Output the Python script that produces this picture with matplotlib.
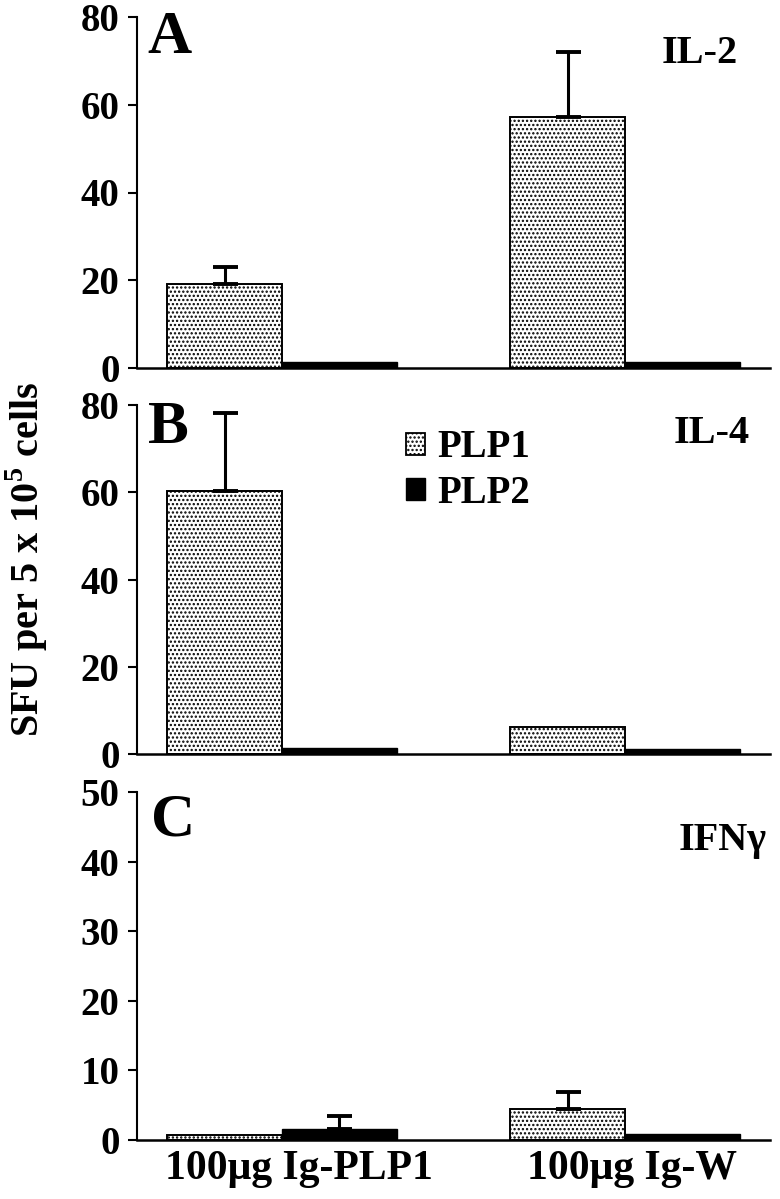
import matplotlib
matplotlib.use("Agg")
import matplotlib.pyplot as plt
from matplotlib.patches import Patch

plt.rcParams['font.family'] = ['Liberation Serif', 'DejaVu Serif']
plt.rcParams['font.weight'] = 'bold'
plt.rcParams['hatch.linewidth'] = 1.1
plt.rcParams['mathtext.fontset'] = 'custom'
plt.rcParams['mathtext.rm'] = 'Liberation Serif:bold'
plt.rcParams['mathtext.bf'] = 'Liberation Serif:bold'

groups = ["100\u03bcg Ig-PLP1", "100\u03bcg Ig-W"]
series = ["PLP1", "PLP2"]
panels = ["A", "B", "C"]
cytokines = ["IL-2", "IL-4", "IFN\u03b3"]

il2_plp1 = [19.1, 57.2]
il2_plp1_err = [3.9, 14.8]
il2_plp2 = [1.3, 1.4]
il2_plp2_err = [0.0, 0.0]

il4_plp1 = [60.3, 6.2]
il4_plp1_err = [17.9, 0.0]
il4_plp2 = [1.3, 1.2]
il4_plp2_err = [0.0, 0.0]

ifng_plp1 = [0.7, 4.5]
ifng_plp1_err = [0.0, 2.4]
ifng_plp2 = [1.6, 0.9]
ifng_plp2_err = [1.8, 0.0]

yticks_ab = [0, 20, 40, 60, 80]
yticks_c = [0, 10, 20, 30, 40, 50]

data = [
    (il2_plp1, il2_plp1_err, il2_plp2, il2_plp2_err, yticks_ab),
    (il4_plp1, il4_plp1_err, il4_plp2, il4_plp2_err, yticks_ab),
    (ifng_plp1, ifng_plp1_err, ifng_plp2, ifng_plp2_err, yticks_c),
]

fig = plt.figure(figsize=(7.8, 11.99), dpi=100)
H = 1199.0
W = 780.0
boxes = [(17, 368), (405, 754), (792, 1140)]
left_px, right_px = 137, 770

bw = 0.335
xpos = [0, 1]
label_pos = [0.05, 1.02]

panel_xy = [(0.017, 0.897), (0.017, 0.891), (0.022, 0.876)]
cyto_xy = [(0.949, 0.869), (0.968, 0.89), (0.995, 0.833)]

axes = []
for i, (p1, e1, p2, e2, yt) in enumerate(data):
    top, bot = boxes[i]
    ax = fig.add_axes([left_px / W, 1 - bot / H, (right_px - left_px) / W, (bot - top) / H])
    axes.append(ax)
    x1 = [x - bw / 2 for x in xpos]
    x2 = [x + bw / 2 for x in xpos]
    ax.bar(x1, p1, width=bw, color='white', edgecolor='black', linewidth=1.4,
           hatch='....', zorder=2)
    ax.bar(x2, p2, width=bw, color='black', edgecolor='black', linewidth=1.0, zorder=2)
    for xs, vals, errs in ((x1, p1, e1), (x2, p2, e2)):
        for xx, v, e in zip(xs, vals, errs):
            if e > 0:
                ax.errorbar([xx], [v], yerr=[[0], [e]], fmt='none', ecolor='black',
                            elinewidth=2.2, capsize=9, capthick=2.8, zorder=3)
    ax.set_xlim(-0.423, 1.423)
    ax.set_ylim(0, yt[-1])
    ax.set_yticks(yt)
    ax.set_yticklabels([str(t) for t in yt])
    ax.spines['top'].set_visible(False)
    ax.spines['right'].set_visible(False)
    ax.spines['left'].set_linewidth(1.5)
    ax.spines['bottom'].set_linewidth(1.8)
    ax.tick_params(axis='y', direction='out', length=6.5, width=1.5, pad=6,
                   labelsize=28)
    ax.tick_params(axis='x', length=0, pad=7, labelsize=30)
    if i == 2:
        ax.set_xticks(label_pos)
        ax.set_xticklabels(groups)
    else:
        ax.set_xticks([])
    for lab in ax.get_yticklabels() + ax.get_xticklabels():
        lab.set_fontweight('bold')
    ax.text(panel_xy[i][0], panel_xy[i][1], panels[i], transform=ax.transAxes,
            fontsize=44, fontweight='bold', ha='left', va='baseline')
    ax.text(cyto_xy[i][0], cyto_xy[i][1], cytokines[i], transform=ax.transAxes,
            fontsize=29, fontweight='bold', ha='right', va='baseline')

handles = [Patch(facecolor='white', edgecolor='black', hatch='....', linewidth=1.3),
           Patch(facecolor='black', edgecolor='black')]
axes[1].legend(handles, series, loc='upper left', bbox_to_anchor=(0.425, 0.93),
               frameon=False, handlelength=0.5, handleheight=0.5,
               handletextpad=0.3, labelspacing=0.22, borderpad=0, borderaxespad=0,
               prop={'weight': 'bold', 'size': 28})

fig.text(27 / W, 1 - 559 / H, "SFU per 5 x 10$^{\\mathbf{5}}$ cells", rotation=90,
         ha='center', va='center', fontsize=29, fontweight='bold')

fig.savefig("out.png", dpi=100)
